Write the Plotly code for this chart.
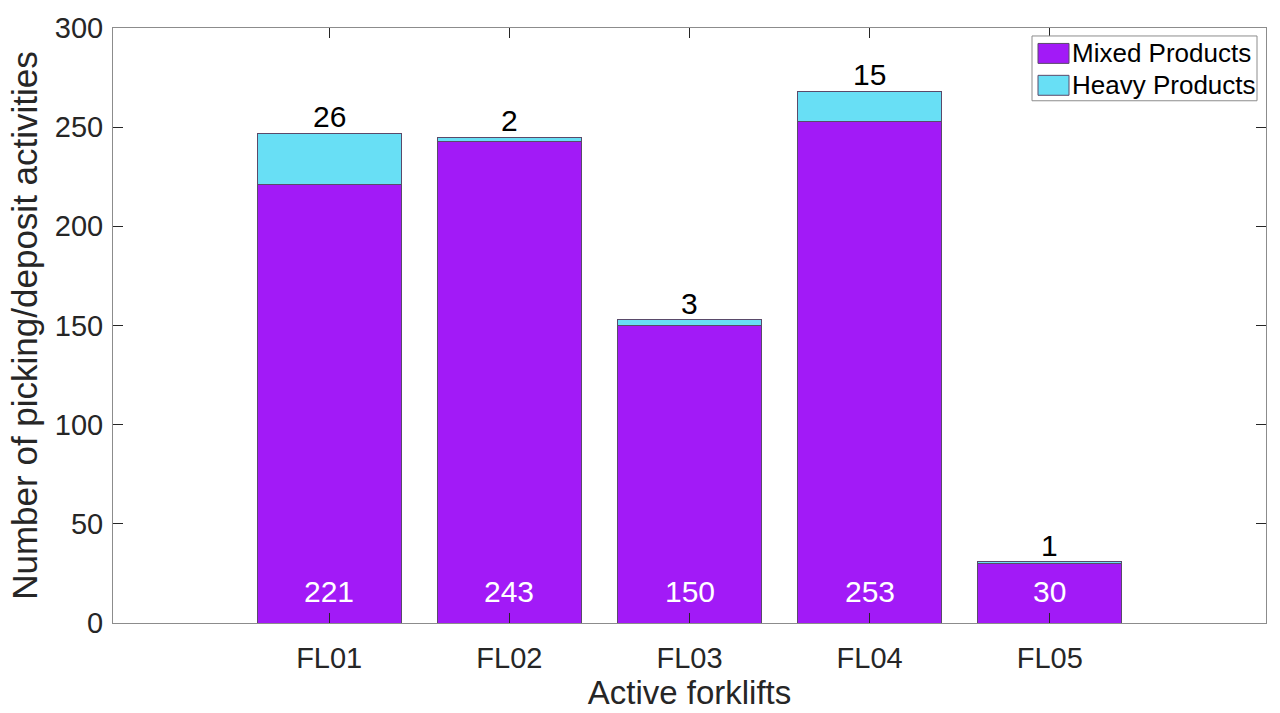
import plotly.graph_objects as go

categories = ["FL01", "FL02", "FL03", "FL04", "FL05"]
positions = [1, 2, 3, 4, 5]
mixed = [221, 243, 150, 253, 30]
heavy = [26, 2, 3, 15, 1]
series_names = ["Mixed Products", "Heavy Products"]
totals = [m + h for m, h in zip(mixed, heavy)]

purple = "#A21AF7"
cyan = "#68DFF5"
edge = "#5a4a6a"
font_family = "Liberation Sans, Arial, sans-serif"

W, H = 1280, 713
L, R, T, B = 113, 14, 27, 89
PW, PH = W - L - R, H - T - B


def px(x):
    return (x - L) / PW


def py(y):
    return (H - B - y) / PH


fig = go.Figure()
fig.add_trace(go.Bar(x=positions, y=mixed, name=series_names[0], width=0.8, showlegend=False,
                     marker=dict(color=purple, line=dict(color=edge, width=1))))
fig.add_trace(go.Bar(x=positions, y=heavy, name=series_names[1], width=0.8, showlegend=False,
                     marker=dict(color=cyan, line=dict(color=edge, width=1))))

for x, t, h, m in zip(positions, totals, heavy, mixed):
    fig.add_annotation(x=x, y=t, text=str(h), showarrow=False, yanchor="bottom",
                       yshift=-2, font=dict(size=30, color="black", family=font_family))
    fig.add_annotation(x=x, y=0, text=str(m), showarrow=False, yanchor="bottom",
                       yshift=13, font=dict(size=30, color="white", family=font_family))

# legend box drawn manually (MATLAB-style rectangular swatches)
shapes = [dict(type="rect", xref="paper", yref="paper", x0=px(1032), x1=px(1257),
               y0=py(100), y1=py(35), line=dict(color="#8c8c8c", width=1), fillcolor="white")]
for i, (name, col) in enumerate(zip(series_names, [purple, cyan])):
    yc = 52.5 + i * 32
    shapes.append(dict(type="rect", xref="paper", yref="paper", x0=px(1038), x1=px(1069),
                       y0=py(yc + 10), y1=py(yc - 10), line=dict(color=edge, width=1), fillcolor=col))
    fig.add_annotation(xref="paper", yref="paper", x=px(1070), y=py(yc), text=name,
                       showarrow=False, xanchor="left", yanchor="middle",
                       font=dict(size=26, color="black", family=font_family))

axis_common = dict(showline=True, linecolor="#8c8c8c", linewidth=1, mirror="ticks",
                   ticks="inside", ticklen=10, tickcolor="#262626", showgrid=False,
                   zeroline=False, tickfont=dict(size=29, color="#262626", family=font_family))

fig.update_layout(
    barmode="stack",
    width=W, height=H,
    margin=dict(l=L, r=R, t=T, b=B),
    plot_bgcolor="white", paper_bgcolor="white",
    font=dict(family=font_family, color="#262626"),
    shapes=shapes,
    xaxis=dict(range=[-0.2, 6.2], tickvals=positions, ticktext=categories,
               ticklabelstandoff=9,
               title=dict(text="Active forklifts", font=dict(size=33), standoff=4),
               **axis_common),
    yaxis=dict(range=[0, 300], tickvals=[0, 50, 100, 150, 200, 250, 300],
               ticklabelstandoff=3,
               title=dict(text="Number of picking/deposit activities", font=dict(size=35), standoff=6),
               **axis_common),
    showlegend=False,
)

fig.write_html("out.html")
